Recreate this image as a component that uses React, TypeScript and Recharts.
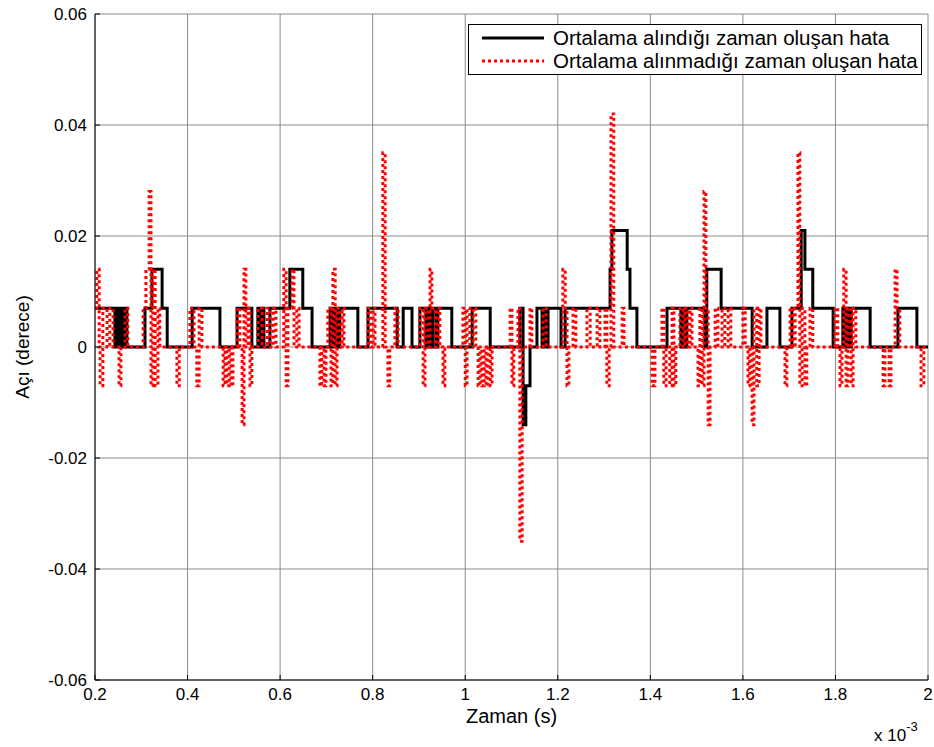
import { LineChart, Line, XAxis, YAxis, CartesianGrid } from 'recharts'

// zaman (x 10^-3 s), açı hatası (derece)
const blackSteps: [number, number][] = [
  [0.2, 0.007], [0.243, 0], [0.248, 0.007], [0.252, 0], [0.256, 0.007], [0.261, 0],
  [0.265, 0.007], [0.269, 0], [0.308, 0.007], [0.323, 0.014], [0.345, 0.007], [0.356, 0],
  [0.41, 0.007], [0.47, 0], [0.507, 0.007], [0.539, 0], [0.552, 0.007], [0.557, 0],
  [0.561, 0.007], [0.565, 0], [0.578, 0.007], [0.621, 0.014], [0.649, 0.007], [0.669, 0],
  [0.708, 0.007], [0.714, 0], [0.719, 0.007], [0.725, 0], [0.729, 0.007], [0.768, 0],
  [0.79, 0.007], [0.853, 0], [0.866, 0.007], [0.885, 0], [0.902, 0.007], [0.915, 0],
  [0.92, 0.007], [0.926, 0], [0.93, 0.007], [0.937, 0], [0.941, 0.007], [0.971, 0],
  [1.015, 0.007], [1.054, 0], [1.118, 0.007], [1.125, -0.014], [1.131, -0.007], [1.14, 0],
  [1.155, 0.007], [1.166, 0], [1.17, 0.007], [1.175, 0], [1.179, 0.007], [1.207, 0],
  [1.216, 0.007], [1.313, 0.014], [1.317, 0.021], [1.35, 0.014], [1.356, 0.007], [1.371, 0],
  [1.436, 0.007], [1.466, 0], [1.471, 0.007], [1.475, 0], [1.479, 0.007], [1.518, 0],
  [1.522, 0.014], [1.553, 0.007], [1.62, 0], [1.652, 0.007], [1.68, 0], [1.706, 0.007],
  [1.726, 0.021], [1.734, 0.014], [1.751, 0.007], [1.795, 0], [1.816, 0.007], [1.821, 0],
  [1.825, 0.007], [1.829, 0], [1.834, 0.007], [1.875, 0], [1.935, 0.007], [1.976, 0],
  [2.0, 0],
]

const redSteps: [number, number][] = [
  [0.2, 0.007], [0.204, 0.014], [0.209, 0], [0.211, -0.007], [0.217, 0.007], [0.226, 0],
  [0.232, 0.007], [0.239, 0], [0.252, -0.007], [0.256, 0], [0.265, 0.007], [0.271, 0],
  [0.304, 0.007], [0.31, 0.014], [0.317, 0.028], [0.321, -0.007], [0.325, 0.014], [0.33, -0.007],
  [0.336, 0.007], [0.34, 0], [0.377, -0.007], [0.382, 0], [0.405, 0.007], [0.414, 0],
  [0.42, -0.007], [0.425, 0.007], [0.431, 0], [0.477, -0.007], [0.481, 0], [0.485, -0.007],
  [0.49, 0], [0.494, -0.007], [0.498, 0], [0.507, 0.007], [0.513, 0], [0.518, -0.014],
  [0.522, 0.014], [0.526, 0], [0.531, 0.007], [0.535, -0.007], [0.539, 0], [0.552, 0.007],
  [0.561, 0], [0.572, 0.007], [0.578, 0], [0.585, 0.007], [0.591, 0], [0.608, 0.014],
  [0.613, -0.007], [0.617, 0.007], [0.626, 0.014], [0.63, 0], [0.636, 0.007], [0.641, 0],
  [0.686, -0.007], [0.69, 0], [0.695, -0.007], [0.699, 0], [0.703, 0.007], [0.71, -0.007],
  [0.714, 0.014], [0.719, -0.007], [0.723, 0.007], [0.729, 0], [0.734, 0.007], [0.738, 0],
  [0.79, 0.007], [0.796, 0], [0.801, 0.007], [0.805, 0], [0.822, 0.035], [0.827, 0],
  [0.833, -0.007], [0.837, 0], [0.848, 0.007], [0.855, 0], [0.902, 0.007], [0.909, -0.007],
  [0.913, 0.007], [0.92, 0], [0.924, 0.014], [0.928, 0.007], [0.935, 0], [0.939, 0.007],
  [0.945, 0], [0.952, -0.007], [0.956, 0], [0.995, 0.007], [1.0, -0.007], [1.004, 0.007],
  [1.01, 0], [1.017, 0.007], [1.023, 0], [1.028, -0.007], [1.032, 0], [1.036, -0.007],
  [1.041, 0], [1.045, -0.007], [1.049, 0], [1.054, -0.007], [1.058, 0], [1.097, 0.007],
  [1.101, -0.007], [1.105, 0], [1.114, 0.007], [1.118, -0.035], [1.123, 0], [1.14, 0.007],
  [1.144, 0], [1.168, 0.007], [1.175, 0], [1.211, 0.014], [1.216, 0.007], [1.22, -0.007],
  [1.224, 0], [1.233, 0.007], [1.239, 0], [1.263, 0.007], [1.27, 0], [1.285, 0.007],
  [1.291, 0], [1.302, 0.007], [1.306, -0.007], [1.311, 0], [1.315, 0.042], [1.321, 0],
  [1.339, 0.007], [1.343, 0], [1.404, -0.007], [1.41, 0], [1.425, 0.007], [1.429, -0.007],
  [1.434, 0], [1.442, -0.007], [1.447, 0.007], [1.451, -0.007], [1.455, 0], [1.464, 0.007],
  [1.471, 0], [1.475, 0.007], [1.481, 0], [1.486, 0.007], [1.49, 0], [1.503, -0.007],
  [1.507, 0.007], [1.512, -0.007], [1.516, 0.028], [1.52, 0.007], [1.525, -0.014], [1.529, 0],
  [1.54, 0.007], [1.546, 0], [1.555, 0.007], [1.561, 0], [1.568, 0.007], [1.574, 0],
  [1.6, 0.007], [1.605, 0], [1.611, -0.007], [1.615, 0], [1.62, -0.014], [1.624, 0.007],
  [1.63, -0.007], [1.635, 0.007], [1.639, 0], [1.691, -0.007], [1.695, 0], [1.702, 0.007],
  [1.708, 0], [1.713, 0.007], [1.719, 0.035], [1.723, -0.007], [1.728, 0.007], [1.734, -0.007],
  [1.738, 0], [1.745, 0.007], [1.751, 0], [1.799, 0.007], [1.805, 0], [1.81, -0.007],
  [1.814, 0], [1.818, 0.014], [1.823, -0.007], [1.827, 0.007], [1.834, -0.007], [1.838, 0.007],
  [1.844, 0], [1.903, -0.007], [1.907, 0], [1.916, -0.007], [1.92, 0], [1.929, 0.014],
  [1.933, 0.007], [1.939, 0], [1.985, -0.007], [1.991, 0], [2.0, 0],
]

const xTicks = [0.2, 0.4, 0.6, 0.8, 1, 1.2, 1.4, 1.6, 1.8, 2]
const yTicks = [-0.06, -0.04, -0.02, 0, 0.02, 0.04, 0.06]

const seriesNames = ['Ortalama alındığı zaman oluşan hata', 'Ortalama alınmadığı zaman oluşan hata']

const blackData = blackSteps.map(([t, v]) => ({ t, v }))
const redData = redSteps.map(([t, v]) => ({ t, v }))

const font = '"Liberation Sans", Arial, sans-serif'

function YLabel({ viewBox }: any) {
  const cx = viewBox.x + 22
  const cy = viewBox.y + viewBox.height / 2
  return (
    <text x={cx} y={cy} transform={`rotate(-90 ${cx} ${cy})`} textAnchor="middle"
      dominantBaseline="central" fontSize={19} fontFamily={font} fill="#000">
      Açı (derece)
    </text>
  )
}

const blank = () => ''

export default function App() {
  return (
    <div style={{ position: 'absolute', left: 0, top: 0, width: 934, height: 747, background: '#fff', fontFamily: font }}>
      <LineChart width={934} height={747} margin={{ top: 14, right: 6, left: 0, bottom: 0 }}>
        <CartesianGrid stroke="#8c8c8c" strokeWidth={1} />
        <XAxis
          dataKey="t"
          type="number"
          domain={[0.2, 2]}
          ticks={xTicks}
          allowDataOverflow
          height={67}
          tickSize={-5}
          tickMargin={13}
          tickLine={{ stroke: '#000' }}
          axisLine={{ stroke: '#000' }}
          tick={{ fill: '#000', fontSize: 17, fontFamily: font }}
          label={{ value: 'Zaman (s)', position: 'insideBottom', offset: 24, fill: '#000', fontSize: 20, fontFamily: font }}
        />
        <XAxis xAxisId="top" orientation="top" type="number" domain={[0.2, 2]} ticks={xTicks} height={0}
          tickSize={-5} tickFormatter={blank} tickLine={{ stroke: '#000' }} axisLine={{ stroke: '#000' }} />
        <YAxis
          type="number"
          domain={[-0.06, 0.06]}
          ticks={yTicks}
          allowDataOverflow
          width={95}
          tickSize={-5}
          tickMargin={13}
          tickLine={{ stroke: '#000' }}
          axisLine={{ stroke: '#000' }}
          tick={{ fill: '#000', fontSize: 17, fontFamily: font }}
          label={<YLabel />}
        />
        <YAxis yAxisId="right" orientation="right" type="number" domain={[-0.06, 0.06]} ticks={yTicks} width={0}
          tickSize={-5} tickFormatter={blank} tickLine={{ stroke: '#000' }} axisLine={{ stroke: '#000' }} />
        <Line data={blackData} dataKey="v" type="stepAfter" stroke="#000" strokeWidth={3}
          dot={false} activeDot={false} isAnimationActive={false} name={seriesNames[0]} />
        <Line data={redData} dataKey="v" type="stepAfter" stroke="#ff0000" strokeWidth={3}
          strokeDasharray="3 3" dot={false} activeDot={false} isAnimationActive={false} name={seriesNames[1]} />
      </LineChart>

      <div style={{ position: 'absolute', left: 468, top: 24, width: 452, height: 49, border: '1px solid #000', background: '#fff' }}>
        <svg width={452} height={49} style={{ position: 'absolute', left: 0, top: 0 }}>
          <line x1={13} y1={13} x2={75} y2={13} stroke="#000" strokeWidth={3} />
          <line x1={13} y1={36} x2={75} y2={36} stroke="#ff0000" strokeWidth={3} strokeDasharray="3 3" />
          <text x={84} y={20} fontSize={20.5} fontFamily={font} fill="#000">{seriesNames[0]}</text>
          <text x={84} y={43} fontSize={20.5} fontFamily={font} fill="#000">{seriesNames[1]}</text>
        </svg>
      </div>

      <div style={{ position: 'absolute', left: 874, top: 722, fontSize: 17, fontFamily: font, color: '#000', whiteSpace: 'nowrap' }}>
        x 10<sup style={{ fontSize: 13, position: 'relative', top: -3 }}>-3</sup>
      </div>
    </div>
  )
}
